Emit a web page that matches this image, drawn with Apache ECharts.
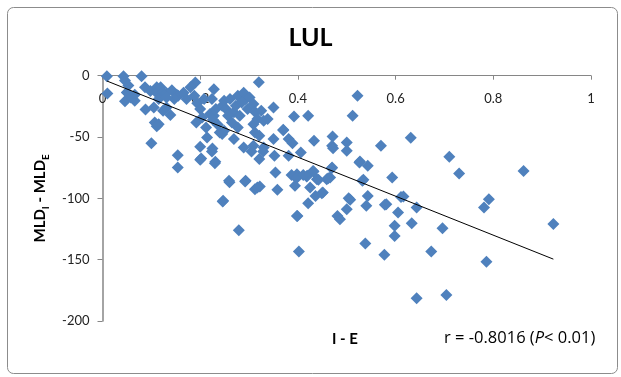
<!DOCTYPE html>
<html>
<head>
<meta charset="utf-8">
<script src="https://cdn.jsdelivr.net/npm/echarts@6/dist/echarts.min.js"></script>
<style>
html,body{margin:0;padding:0;background:#fff;}
#chart{width:621px;height:377px;}
</style>
</head>
<body>
<div id="chart"></div>
<script>
// ---- data ----
const titleText = 'LUL';
const xTicks = [0, 0.2, 0.4, 0.6, 0.8, 1];
const yTicks = [-200, -150, -100, -50, 0];
const xValues = [
  0.009,0.01,0.043,0.046,0.05,0.053,0.05,0.046,0.058,0.066,0.066,
  0.08,0.087,0.088,0.098,0.105,0.111,0.111,0.119,0.123,0.115,0.124,0.131,0.139,0.131,0.142,
  0.152,0.155,0.166,0.172,0.147,0.131,0.111,0.107,0.115,0.1,
  0.19,0.18,0.188,0.194,0.2,0.192,0.204,0.212,0.22,0.208,0.228,0.224,0.232,0.245,0.249,0.253,
  0.24,0.249,0.265,0.269,0.273,0.277,0.281,0.277,0.289,0.293,0.297,0.301,0.309,0.313,0.309,
  0.317,0.325,0.33,0.312,0.321,0.285,0.261,0.257,0.228,0.32,0.35,0.338,0.37,
  0.245,0.269,0.214,0.225,0.231,0.2,0.202,0.154,0.154,0.259,0.247,0.279,0.289,0.293,0.309,
  0.312,0.317,0.321,0.33,0.35,0.352,0.354,0.358,0.37,0.381,0.381,0.389,0.392,0.394,0.398,
  0.398,0.402,0.406,0.419,0.421,0.421,0.425,0.431,0.433,0.436,0.439,0.451,0.459,0.466,0.47,
  0.47,0.471,0.481,0.486,0.5,0.5,0.5,0.504,0.512,0.522,0.526,0.532,0.538,0.54,0.543,0.543,
  0.57,0.577,0.581,0.593,0.598,0.598,0.605,0.611,0.631,0.633,0.643,0.643,0.673,0.696,0.704,
  0.71,0.73,0.781,0.786,0.791,0.862,0.923,
  0.472,0.527,0.469,0.432,0.418,0.442,0.462,0.534,0.449,0.507,0.616,0.578,
  0.2,0.23,0.224,0.305,0.329,0.26,0.292,0.322,0.387,0.397,0.411,0.246,0.399,0.226,0.236
];
const yValues = [
  -0.5,-14.5,-0.5,-4,-13.6,-8,-13.6,-20.8,-17.7,-20.4,-15.5,
  -0.5,-9.5,-27.5,-12.5,-26,-9.5,-14.1,-9.5,-13.6,-19,-28.5,-25.9,-32,-14.1,-11.8,
  -15.5,-16.3,-13.8,-19,-19,-17.7,-41.2,-38.1,-39.5,-55,
  -5.6,-9.5,-16.3,-22.5,-27.2,-38.1,-34,-42.2,-31.3,-19,-11,-19,-27.2,-24.5,-20.4,-27.2,
  -46.3,-44.9,-38.1,-29.9,-24.5,-16.3,-32.7,-42.2,-13.8,-19,-27.2,-17.7,-23.1,-29.9,-39.5,
  -35.4,-28.6,-36.7,-46.3,-49,-21.8,-19,-32.7,-32.7,-5.4,-26,-35.4,-44,
  -47.6,-51.7,-50.3,-59.3,-70.2,-58,-67.5,-64.8,-74.8,-85.7,-102,-126,-58.5,-85.7,-57.1,
  -92.5,-91.2,-68,-58.5,-51.7,-65.3,-78.9,-93,-44.4,-51.7,-65.3,-55,-33.2,-89.8,-80.3,
  -114.3,-143.4,-62.6,-81.6,-32.7,-104,-91.2,-77.6,-53,-98,-84.4,-95.2,-84.4,-83,-74.8,
  -57.1,-49.5,-114.3,-117,-54.4,-61.2,-108.8,-100,-32.7,-16.3,-70.7,-85.7,-136.9,-106,-98,-73.5,
  -57.1,-146,-104.8,-83,-122.4,-130.6,-111.6,-98.8,-50.6,-120.3,-107.5,-181.5,-143.4,-124.4,-178.8,
  -66,-79.7,-107.5,-151.6,-100.7,-77.6,-121,
  -59.1,-70,-75.4,-78.2,-82.2,-84.9,-83.6,-84.9,-95.8,-101.2,-98.5,-105.3,
  -68.6,-71.3,-61.9,-61.9,-61.9,-86.8,-86.3,-90.3,-81,-83.6,-80.9,-102.6,-114.3,-36,-40
];
// fitted trend line of the reference: y = intercept + slope * x
const trendSlope = -158.9;
const trendIntercept = -2.9;
const rText = 'r = -0.8016';
const pText = 'P';
const pRest = '< 0.01)';

// ---- build ----
const points = xValues.map((x, i) => [x, yValues[i]]);
const xMin = Math.min(...xValues), xMax = Math.max(...xValues);
const trend = [[xMin, trendIntercept + trendSlope * xMin], [xMax, trendIntercept + trendSlope * xMax]];

const FONT = 'Lato, "Open Sans", sans-serif';
const FONT2 = '"Open Sans", Lato, sans-serif';
const chart = echarts.init(document.getElementById('chart'), null, {renderer: 'canvas'});
chart.setOption({
  backgroundColor: '#ffffff',
  animation: false,
  title: {
    text: titleText,
    left: 'center',
    top: 20,
    textStyle: {fontFamily: FONT, fontSize: 25, fontWeight: 'bold', color: '#000'},
  },
  grid: {left: 102.5, right: 30, top: 75.7, bottom: 56},
  xAxis: {
    type: 'value',
    position: 'top',
    min: xTicks[0], max: xTicks[xTicks.length - 1], interval: 0.2,
    axisLine: {onZero: false, lineStyle: {color: '#868686', width: 1}},
    axisTick: {show: true, inside: true, length: 4, lineStyle: {color: '#868686'}},
    axisLabel: {inside: true, margin: 17, fontFamily: FONT, fontSize: 13, color: '#222'},
    splitLine: {show: false},
  },
  yAxis: {
    type: 'value',
    min: yTicks[0], max: yTicks[yTicks.length - 1], interval: 50,
    axisLine: {show: true, onZero: false, lineStyle: {color: '#868686', width: 1.5}},
    axisTick: {show: true, length: 5, lineStyle: {color: '#868686'}},
    axisLabel: {margin: 13, fontFamily: FONT, fontSize: 13, color: '#222'},
    splitLine: {show: false},
    name: '{b|MLD}{s|I}{b| - MLD}{s|E}',
    nameLocation: 'middle',
    nameGap: 52,
    nameRotate: 90,
    nameTextStyle: {
      rich: {
        b: {fontFamily: FONT, fontSize: 15, fontWeight: 'bold', color: '#000', verticalAlign: 'bottom', lineHeight: 20},
        s: {fontFamily: FONT, fontSize: 10, fontWeight: 'bold', color: '#000', verticalAlign: 'bottom', lineHeight: 14, padding: [0,0,-3,0]},
      }
    }
  },
  graphic: [
    {type: 'rect', left: 5, top: 5, shape: {width: 610, height: 366, r: 6},
     style: {fill: 'none', stroke: '#8c8c8c', lineWidth: 1}, z: -1, silent: true},
    {type: 'text', left: 332, top: 332,
     style: {text: 'I - E', fontFamily: FONT, fontSize: 15, fontWeight: 'bold', fill: '#000'}},
    {type: 'text', left: 444, top: 330,
     style: {
       text: '{n|' + rText + ' (}{i|' + pText + '}{n|' + pRest + '}',
       rich: {
         n: {fontFamily: FONT2, fontSize: 16.5, fill: '#000', color: '#000'},
         i: {fontFamily: FONT2, fontSize: 16.5, fontStyle: 'italic', fill: '#000', color: '#000'},
       }
     }}
  ],
  series: [
    {
      type: 'scatter',
      data: points,
      symbol: 'diamond',
      symbolSize: 12,
      itemStyle: {color: '#4F81BD', opacity: 1},
      z: 2,
    },
    {
      type: 'line',
      data: trend,
      symbol: 'none',
      lineStyle: {color: '#000', width: 1},
      z: 3,
    }
  ]
});
</script>
</body>
</html>
